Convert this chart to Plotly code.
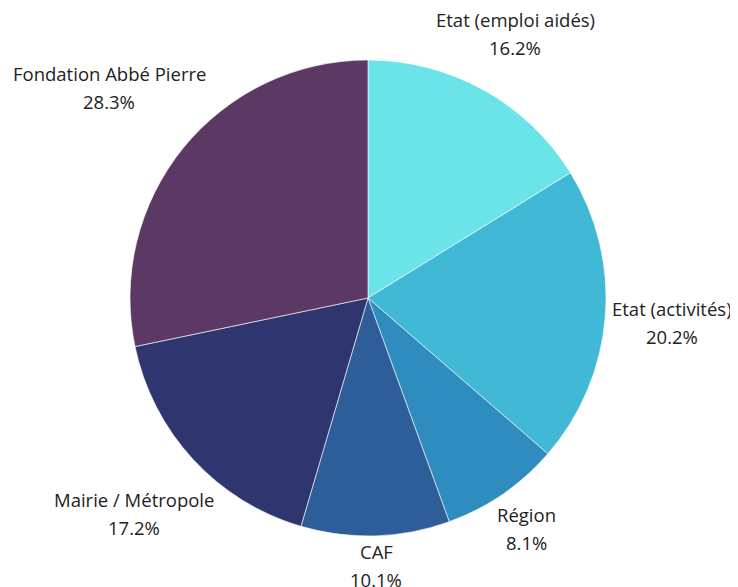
import math
import plotly.graph_objects as go

labels = ["Etat (emploi aidés)", "Etat (activités)", "Région", "CAF",
          "Mairie / Métropole", "Fondation Abbé Pierre"]
values = [16.2, 20.2, 8.1, 10.1, 17.2, 28.3]
colors = ["#6ae4e8", "#41b8d6", "#2e8cbf", "#2e5e99", "#2f356e", "#5c3864"]

OFF = 8                    # default page body margin
W, H = 738 - OFF, 587 - OFF
CX, CY = 368 - OFF, 298 - OFF   # pie centre (px from figure top-left)
R = 238                    # pie radius (px)
FS = 18.5                  # label font size
LINE = 28                  # label line spacing (px)
GAP = 5                    # gap between pie edge and label box

fig = go.Figure(go.Pie(
    labels=labels, values=values, sort=False, direction="clockwise",
    rotation=0, marker=dict(colors=colors, line=dict(color="white", width=0.6)),
    textinfo="none", hoverinfo="label+percent", showlegend=False,
    domain=dict(x=[(CX - R) / W, (CX + R) / W],
                y=[(H - CY - R) / H, (H - CY + R) / H]),
))

# approximate Open Sans advance widths (em) to size the label boxes
CW = {" ": .26, "(": .30, ")": .30, "/": .37, ".": .27, "%": .83,
      "E": .56, "F": .52, "A": .63, "P": .60, "C": .63, "M": .90, "R": .62,
      "a": .56, "b": .61, "c": .48, "d": .61, "e": .56, "g": .55, "i": .26,
      "l": .26, "m": .93, "n": .61, "o": .60, "p": .61, "r": .41, "s": .48,
      "t": .35, "v": .50, "é": .56}


def text_w(s):
    return sum(CW.get(ch, .57) for ch in s) * FS


total = sum(values)
cum = 0.0
for lab, v in zip(labels, values):
    mid = (cum + v / 2) / total
    cum += v
    th = 2 * math.pi * mid
    dx, dy = math.sin(th), math.cos(th)       # dy: up positive
    pct = f"{v / total * 100:.1f}%"
    hw = max(text_w(lab), text_w(pct)) / 2
    hh = (LINE + FS * 1.1) / 2
    dist = R + GAP + hw * abs(dx) + hh * abs(dy)
    px = CX + dist * dx
    py = (H - CY) + dist * dy
    for txt, sh in ((lab, LINE / 2), (pct, -LINE / 2)):
        fig.add_annotation(
            x=px / W, y=py / H, xref="paper", yref="paper", text=txt,
            showarrow=False, xanchor="center", yanchor="middle", yshift=sh,
            font=dict(family="Open Sans", size=FS, color="#222"),
        )

fig.update_layout(
    width=W, height=H, margin=dict(l=0, r=0, t=0, b=0, autoexpand=False),
    paper_bgcolor="white", plot_bgcolor="white",
    font=dict(family="Open Sans"),
)
fig.write_html("out.html")
